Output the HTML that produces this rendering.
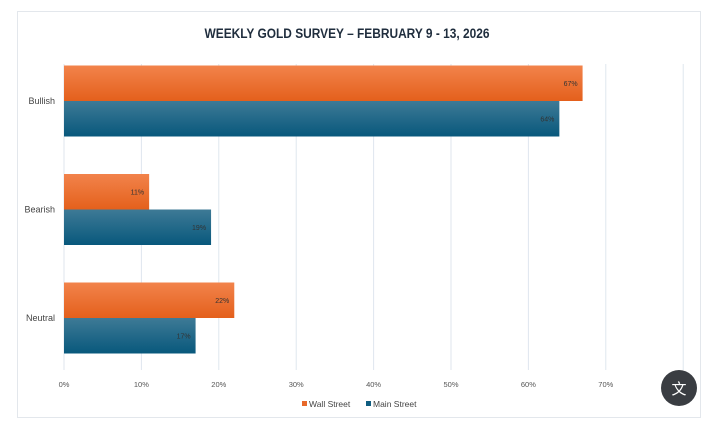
<!DOCTYPE html>
<html><head><meta charset="utf-8"><style>
body{margin:0;width:704px;height:421px;background:#fff;overflow:hidden;font-family:"Liberation Sans Narrow","Liberation Sans",sans-serif;}
</style></head><body>
<svg width="704" height="421" xmlns="http://www.w3.org/2000/svg">
<defs>
<linearGradient id="go" x1="0" y1="0" x2="0" y2="1"><stop offset="0" stop-color="#f2834b"/><stop offset="1" stop-color="#e4601c"/></linearGradient>
<linearGradient id="gb" x1="0" y1="0" x2="0" y2="1"><stop offset="0" stop-color="#3e7a96"/><stop offset="1" stop-color="#08587c"/></linearGradient>
</defs>
<rect x="17.5" y="11.5" width="683" height="406" fill="#fff" stroke="#e3e7ec"/>
<text x="347" y="38" text-anchor="middle" font-size="13.5" font-weight="bold" fill="#1f2d3d" textLength="285" lengthAdjust="spacingAndGlyphs">WEEKLY GOLD SURVEY – FEBRUARY 9 - 13, 2026</text>
<g id="grid"></g><g id="bars"></g><g id="labels"></g>
<g>
<rect x="302" y="401" width="5" height="5" fill="#e8692a"/>
<text x="309" y="407" font-size="8.5" fill="#444">Wall Street</text>
<rect x="366" y="401" width="5" height="5" fill="#0f5d80"/>
<text x="373" y="407" font-size="8.5" fill="#444">Main Street</text>
</g>
<g>
<circle cx="679" cy="388" r="18" fill="#3a3d42"/>
<text x="679" y="394" text-anchor="middle" font-size="15" fill="#fff" font-family="'Noto Sans CJK SC',sans-serif">文</text>
</g>
</svg>
<script>
const categories=["Bullish","Bearish","Neutral"];
const wallStreet=[67,11,22];
const mainStreet=[64,19,17];
const ticks=[0,10,20,30,40,50,60,70,80];
const NS="http://www.w3.org/2000/svg";
const x=v=>64+v*7.74;
const catY=i=>101+i*108.5;
function mk(t,a,p){const e=document.createElementNS(NS,t);for(const k in a)e.setAttribute(k,a[k]);p.appendChild(e);return e;}
const grid=document.getElementById('grid'),bars=document.getElementById('bars'),labels=document.getElementById('labels');
ticks.forEach(t=>{
 const l=mk('line',{x1:x(t),x2:x(t),y1:64,y2:370,stroke:'#dfe6ee','stroke-width':1},grid);
 
 
 if(t<80){const tx=mk('text',{x:x(t),y:387,'text-anchor':'middle','font-size':'7.5',fill:'#555'},labels);tx.textContent=t+'%';
 
 }
});
categories.forEach((c,i)=>{
 const cy=catY(i);
 const cl=mk('text',{x:55,y:cy+3,'text-anchor':'end','font-size':'9',fill:'#444'},labels);cl.textContent=c;
 
 
 [[wallStreet,'url(#go)',-35.5,'wall'],[mainStreet,'url(#gb)',0,'main']].forEach(([arr,fill,dy,n])=>{
  const v=arr[i];
  const r=mk('rect',{x:x(0),y:cy+dy,width:x(v)-x(0),height:35.5,fill:fill},bars);
  
  
  const t=mk('text',{x:x(v)-5,y:cy+dy+20.5,'text-anchor':'end','font-size':'7',fill:'#333'},labels);t.textContent=v+'%';
  
  
 });
});
</script>
</body></html>
